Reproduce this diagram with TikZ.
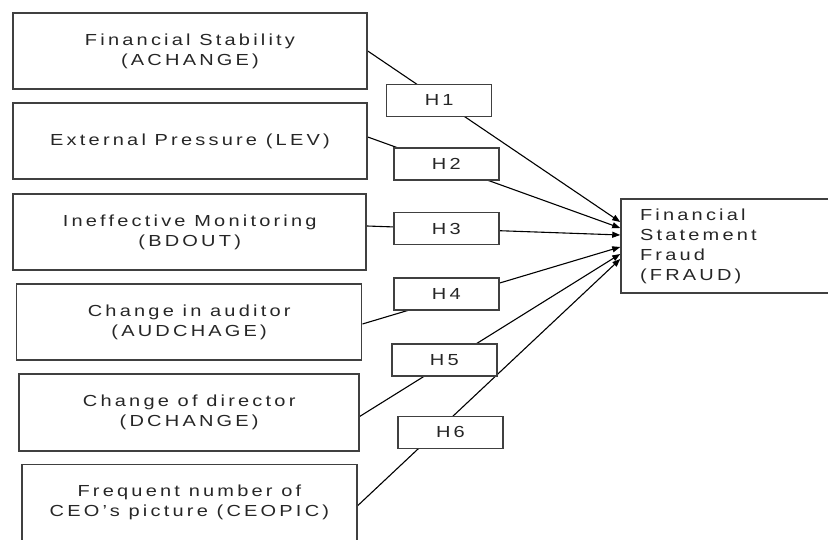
\documentclass[tikz,border=0pt]{standalone}
\usepackage{fontspec}
\setmainfont{Liberation Sans}[FakeStretch=1.25,LetterSpace=20]
\usepackage{tikz}
\usetikzlibrary{arrows.meta}
\usetikzlibrary{backgrounds}
\tikzset{factor/.style={draw=black!75, line width=1.5pt, align=center,
  text=black!85, font=\fontsize{16}{20}\selectfont},
 hyp/.style={factor, fill=white, line width=1.4pt, minimum width=105pt, minimum height=32pt},
 link/.style={line width=1.1pt, -{Triangle[length=8pt,width=6pt]}},
 }

\begin{document}
\begin{tikzpicture}[x=1pt, y=-1pt]
        \useasboundingbox (0,0) rectangle (828,540);
        \node[factor, minimum width=354pt, minimum height=76pt] (stab) at (190,51) {Financial Stability\\(ACHANGE)};
        \node[factor, minimum width=354pt, minimum height=76pt] (lev) at (190,141) {External Pressure (LEV)};
        \node[factor, minimum width=353pt, minimum height=76pt] (bdout) at (189.7,232) {Ineffective Monitoring\\(BDOUT)};
        \node[factor, minimum width=345pt, minimum height=76pt] (aud) at (189.2,322) {Change in auditor\\(AUDCHAGE)};
        \node[factor, minimum width=340pt, minimum height=77pt] (dchange) at (189.2,412.3) {Change of director\\(DCHANGE)};
        \node[factor, minimum width=335pt, minimum height=76pt] (ceopic) at (189.4,502.7) {Frequent number of\\CEO's picture (CEOPIC)};
        \node[factor, minimum width=214pt, minimum height=94pt, text width=176pt, align=left] (fraud) at (728,246) {Financial\\Statement\\Fraud\\(FRAUD)};
        \foreach \hx/\hy [count=\i] in {439.2/100.3, 446.3/164, 446.3/228.5, 446.3/294, 444.3/360, 450.5/432.2} {
            \node[hyp] (h\i) at (\hx,\hy) {H\i};
        }
        \begin{scope}[on background layer]
        \draw[link] (stab.east) -- ([yshift=24pt]fraud.west);
        \draw[link] ([yshift=4pt]lev.east) -- ([yshift=18pt]fraud.west);
        \draw[link] ([yshift=6pt]bdout.east) -- ([yshift=11pt]fraud.west);
        \draw[link] ([yshift=-2pt]aud.east) -- ([yshift=-1pt]fraud.west);
        \draw[link] ([yshift=-4pt]dchange.east) -- ([yshift=-8pt]fraud.west);
        \draw[link] ([yshift=-3pt]ceopic.east) -- ([yshift=-13pt]fraud.west);
        \end{scope}
\end{tikzpicture}
\end{document}
